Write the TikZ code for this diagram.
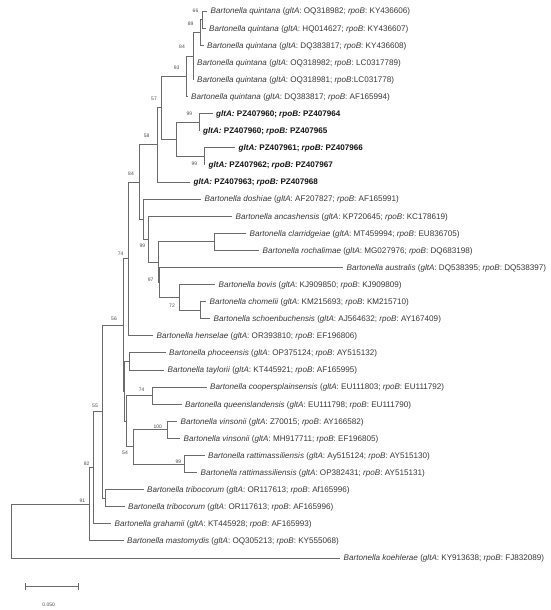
\documentclass[tikz,border=0pt]{standalone}
\usepackage{fontspec}
\setmainfont{Liberation Sans}
\newcommand{\bart}[3]{\textit{Bartonella #1} (\textit{gltA}: #2; \textit{rpoB}: #3)}
\newcommand{\pzl}[2]{\textbf{\textit{gltA:} PZ#1; \textit{rpoB:} PZ#2}}
\begin{document}
\begin{tikzpicture}[x=1pt,y=-1pt,
  br/.style={draw=black!58, line width=0.7pt},
  leaf/.style={anchor=west, inner sep=0pt, xshift=3.5pt, text height=5.9pt, text depth=0pt,
    font=\fontsize{8.1}{9}\selectfont, text=black!78},
  pzleaf/.style={leaf, text=black!92},
  bs/.style={inner sep=0pt, font=\fontsize{5}{6}\selectfont, text=black!70}]
\useasboundingbox[fill=white] (0,0) rectangle (550,610);
% leaf tips
\coordinate (t1) at (207,11.0);
\coordinate (t2) at (205.5,28.1);
\coordinate (t3) at (203.5,45.2);
\coordinate (t4) at (193.5,62.3);
\coordinate (t5) at (193.5,79.4);
\coordinate (t6) at (187.5,96.5);
\coordinate (t7) at (212.5,113.5);
\coordinate (t8) at (199.5,130.6);
\coordinate (t9) at (235,147.7);
\coordinate (t10) at (205,164.8);
\coordinate (t11) at (190,181.9);
\coordinate (t12) at (201,199.0);
\coordinate (t13) at (232,216.1);
\coordinate (t14) at (246,233.2);
\coordinate (t15) at (259,250.3);
\coordinate (t16) at (343,267.4);
\coordinate (t17) at (215,284.4);
\coordinate (t18) at (206,301.5);
\coordinate (t19) at (210,318.6);
\coordinate (t20) at (153,335.7);
\coordinate (t21) at (165.5,352.8);
\coordinate (t22) at (164,369.9);
\coordinate (t23) at (206.5,387.0);
\coordinate (t24) at (181.5,404.1);
\coordinate (t25) at (177,421.2);
\coordinate (t26) at (180,438.3);
\coordinate (t27) at (204.5,455.3);
\coordinate (t28) at (197,472.4);
\coordinate (t29) at (143.5,489.5);
\coordinate (t30) at (124.5,506.6);
\coordinate (t31) at (111,523.7);
\coordinate (t32) at (123.5,540.8);
\coordinate (t33) at (340,557.9);
% internal nodes
\coordinate (n66) at (202,19.55);
\coordinate (n89) at (200,32.4);
\coordinate (n84q) at (193,55.9);
\coordinate (n93) at (186,76.2);
\coordinate (nPZa) at (199,122.05);
\coordinate (nPZb) at (204,156.25);
\coordinate (nPZ) at (176,139.15);
\coordinate (n57) at (161,107.7);
\coordinate (n58) at (157,144.8);
\coordinate (n84) at (139.5,181.9);
\coordinate (nDosh) at (143,219.0);
\coordinate (n99b) at (148,239.05);
\coordinate (nU) at (158,262.0);
\coordinate (nClar) at (214,241.75);
\coordinate (n97) at (159.5,282.3);
\coordinate (nBov) at (179,297.2);
\coordinate (nChom) at (200,310.05);
\coordinate (n74) at (128,258.8);
\coordinate (n56) at (123,325.0);
\coordinate (nA) at (124.7,391.3);
\coordinate (nPT) at (129,361.35);
\coordinate (nB) at (126.2,421.2);
\coordinate (nCQ) at (152,395.55);
\coordinate (n54) at (133,446.8);
\coordinate (nVin) at (167,429.75);
\coordinate (nRat) at (184,463.85);
\coordinate (n55) at (102,411.5);
\coordinate (nTrib) at (105,498.05);
\coordinate (n82) at (93,467.6);
\coordinate (n91) at (89,504.2);
\coordinate (root) at (11,531.0);
% branches
\foreach \p/\c in {root/n91, root/t33, n91/n82, n91/t32, n82/n55, n82/t31,
  n55/n56, n55/nTrib, nTrib/t29, nTrib/t30, n56/n74, n56/nA, n74/n84, n74/t20,
  n84/n58, n84/nDosh, n58/n57, n58/t11, n57/n93, n57/nPZ, n93/n84q, n93/t6,
  n84q/n89, n84q/t4, n84q/t5, n89/n66, n89/t3, n66/t1, n66/t2,
  nPZ/nPZa, nPZ/nPZb, nPZa/t7, nPZa/t8, nPZb/t9, nPZb/t10,
  nDosh/t12, nDosh/n99b, n99b/t13, n99b/nU, nU/nClar, nU/n97, nClar/t14, nClar/t15,
  n97/t16, n97/nBov, nBov/t17, nBov/nChom, nChom/t18, nChom/t19,
  nA/nPT, nA/nB, nPT/t21, nPT/t22, nB/nCQ, nB/n54, nCQ/t23, nCQ/t24,
  n54/nVin, n54/nRat, nVin/t25, nVin/t26, nRat/t27, nRat/t28}
  \draw[br] (\p) |- (\c);
% leaf labels
\node[leaf] (l1) at (t1) {\bart{quintana}{OQ318982}{KY436606}};
\node[leaf] (l2) at (t2) {\bart{quintana}{HQ014627}{KY436607}};
\node[leaf] (l3) at (t3) {\bart{quintana}{DQ383817}{KY436608}};
\node[leaf] (l4) at (t4) {\bart{quintana}{OQ318982}{LC0317789}};
\node[leaf] (l5) at (t5) {\textit{Bartonella quintana} (\textit{gltA}: OQ318981; \textit{rpoB}:LC031778)};
\node[leaf] (l6) at (t6) {\bart{quintana}{DQ383817}{AF165994}};
\node[pzleaf] (l7) at (t7) {\pzl{407960}{407964}};
\node[pzleaf] (l8) at (t8) {\pzl{407960}{407965}};
\node[pzleaf] (l9) at (t9) {\pzl{407961}{407966}};
\node[pzleaf] (l10) at (t10) {\pzl{407962}{407967}};
\node[pzleaf] (l11) at (t11) {\pzl{407963}{407968}};
\node[leaf] (l12) at (t12) {\bart{doshiae}{AF207827}{AF165991}};
\node[leaf] (l13) at (t13) {\bart{ancashensis}{KP720645}{KC178619}};
\node[leaf] (l14) at (t14) {\bart{clarridgeiae}{MT459994}{EU836705}};
\node[leaf] (l15) at (t15) {\bart{rochalimae}{MG027976}{DQ683198}};
\node[leaf] (l16) at (t16) {\bart{australis}{DQ538395}{DQ538397}};
\node[leaf] (l17) at (t17) {\bart{bovis}{KJ909850}{KJ909809}};
\node[leaf] (l18) at (t18) {\bart{chomelii}{KM215693}{KM215710}};
\node[leaf] (l19) at (t19) {\bart{schoenbuchensis}{AJ564632}{AY167409}};
\node[leaf] (l20) at (t20) {\bart{henselae}{OR393810}{EF196806}};
\node[leaf] (l21) at (t21) {\bart{phoceensis}{OP375124}{AY515132}};
\node[leaf] (l22) at (t22) {\bart{taylorii}{KT445921}{AF165995}};
\node[leaf] (l23) at (t23) {\bart{coopersplainsensis}{EU111803}{EU111792}};
\node[leaf] (l24) at (t24) {\bart{queenslandensis}{EU111798}{EU111790}};
\node[leaf] (l25) at (t25) {\bart{vinsonii}{Z70015}{AY166582}};
\node[leaf] (l26) at (t26) {\bart{vinsonii}{MH917711}{EF196805}};
\node[leaf] (l27) at (t27) {\bart{rattimassiliensis}{Ay515124}{AY515130}};
\node[leaf] (l28) at (t28) {\bart{rattimassiliensis}{OP382431}{AY515131}};
\node[leaf] (l29) at (t29) {\bart{tribocorum}{OR117613}{Af165996}};
\node[leaf] (l30) at (t30) {\bart{tribocorum}{OR117613}{AF165996}};
\node[leaf] (l31) at (t31) {\bart{grahamii}{KT445928}{AF165993}};
\node[leaf] (l32) at (t32) {\bart{mastomydis}{OQ305213}{KY555068}};
\node[leaf] (l33) at (t33) {\bart{koehlerae}{KY913638}{FJ832089}};
% bootstrap values
\node[bs] (b66) at (195.5,11) {66};
\node[bs] (b89) at (190.7,23.7) {89};
\node[bs] (b84q) at (182,47.2) {84};
\node[bs] (b93) at (176.7,67.5) {93};
\node[bs] (b57) at (154,99.2) {57};
\node[bs] (bPZa) at (189.3,114) {99};
\node[bs] (b58) at (146.7,136) {58};
\node[bs] (bPZb) at (194.3,164) {99};
\node[bs] (b84) at (131,174) {84};
\node[bs] (b99b) at (142.3,245.5) {99};
\node[bs] (b97) at (150.7,279.5) {97};
\node[bs] (b72) at (172,306) {72};
\node[bs] (b74) at (120.7,254) {74};
\node[bs] (b56) at (114,318.3) {56};
\node[bs] (bCQ) at (141.7,390) {74};
\node[bs] (bVin) at (157.7,426.7) {100};
\node[bs] (b54) at (125,453) {54};
\node[bs] (bRat) at (178.3,461.7) {99};
\node[bs] (b55) at (95,406) {55};
\node[bs] (b82) at (86.7,464) {82};
\node[bs] (b91) at (82.3,500.5) {91};
% scale bar
\coordinate (sbL) at (25.7,586.7);
\coordinate (sbR) at (78.3,586.7);
\draw[br] (sbL) -- (sbR);
\draw[br] ([yshift=3.3pt]sbL) -- ([yshift=-3.3pt]sbL);
\draw[br] ([yshift=3.3pt]sbR) -- ([yshift=-3.3pt]sbR);
\node[bs] (sbtext) at (48.7,605) {0.050};
\end{tikzpicture}
\end{document}
